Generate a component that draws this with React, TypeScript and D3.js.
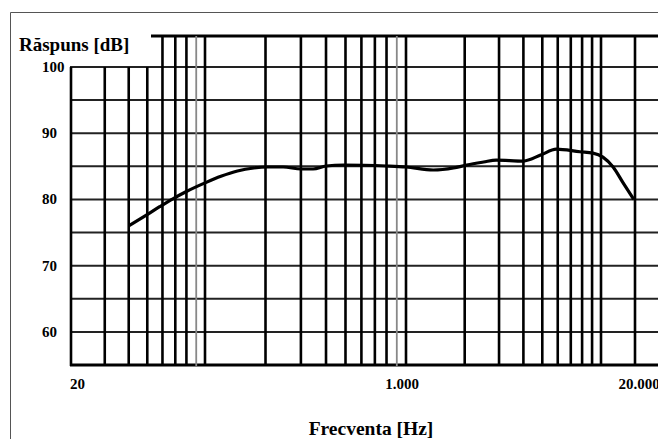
import React, { useEffect, useRef } from "react";
import * as d3 from "d3";

// frequency response
const freqs = [40, 48, 58, 68, 80, 100, 120, 145, 175, 205, 245, 300, 345, 400, 490, 800, 1000, 1380, 1750, 2050, 2500, 2900, 4000, 4900, 5900, 7800, 9100, 10400, 12800, 15700, 19500];
const response = [76, 77.4, 78.9, 80.1, 81.2, 82.5, 83.5, 84.3, 84.75, 84.9, 84.9, 84.6, 84.6, 85.05, 85.2, 85.05, 84.9, 84.45, 84.75, 85.2, 85.65, 85.95, 85.8, 86.7, 87.6, 87.2, 87.0, 86.4, 84.9, 82.5, 80];

const gridFreqs = [20, 30, 40, 50, 60, 70, 80, 90, 100, 200, 300, 400, 500, 600, 700, 800, 900, 1000, 2000, 3000, 4000, 5000, 6000, 7000, 8000, 9000, 10000, 20000];
const lightFreqs = [90, 900];
const gridDb = [55, 60, 65, 70, 75, 80, 85, 90, 95, 100];
const yTickLabels = [60, 70, 80, 90, 100];
const xTickLabels = [
  { f: 20, text: "20" },
  { f: 1000, text: "1.000" },
  { f: 20000, text: "20.000" },
];

const W = 658;
const H = 439;
const serif = "'Liberation Serif', 'Times New Roman', serif";

export default function App() {
  const ref = useRef<SVGSVGElement | null>(null);

  useEffect(() => {
    const svg = d3.select(ref.current);
    svg.selectAll("*").remove();

    const left = 71, bottom = 365, top100 = 67, topBorder = 36;

    // the paper's decades are not quite even, so map each decade piecewise
    const x = d3.scaleLog()
      .domain([20, 100, 1000, 10000, 20000])
      .range([left, 205, 406, 601, 635]);
    const y = d3.scaleLinear().domain([55, 100]).range([bottom, top100]);

    // outer frame
    svg.append("path")
      .attr("d", `M10.5,${H} V12.5 H${W}`)
      .attr("fill", "none")
      .attr("stroke", "#555")
      .attr("stroke-width", 1);

    // horizontal grid
    svg.selectAll("line.h")
      .data(gridDb)
      .enter()
      .append("line")
      .attr("class", "h")
      .attr("x1", left - 1)
      .attr("x2", W)
      .attr("y1", d => y(d))
      .attr("y2", d => y(d))
      .attr("stroke", d => (d === 55 ? "#000" : "#222"))
      .attr("stroke-width", d => (d === 55 ? 3 : 2));

    svg.append("line")
      .attr("x1", 151)
      .attr("x2", W)
      .attr("y1", topBorder)
      .attr("y2", topBorder)
      .attr("stroke", "#000")
      .attr("stroke-width", 3);

    // vertical grid
    svg.selectAll("line.v")
      .data(gridFreqs)
      .enter()
      .append("line")
      .attr("class", "v")
      .attr("x1", d => x(d))
      .attr("x2", d => x(d))
      .attr("y1", d => (d >= 60 ? topBorder : top100))
      .attr("y2", bottom + 1)
      .attr("stroke", d => (lightFreqs.includes(d) ? "#888" : "#000"))
      .attr("stroke-width", d => (lightFreqs.includes(d) ? 1.8 : 2.6));

    // response curve
    const line = d3.line<number>()
      .x((d, i) => x(freqs[i]))
      .y(d => y(d))
      .curve(d3.curveMonotoneX);

    svg.append("path")
      .attr("d", line(response) || "")
      .attr("fill", "none")
      .attr("stroke", "#000")
      .attr("stroke-width", 3.2)
      .attr("stroke-linejoin", "round");

    // labels
    svg.selectAll("text.yt")
      .data(yTickLabels)
      .enter()
      .append("text")
      .attr("class", "yt")
      .attr("x", 42)
      .attr("y", d => y(d) + 5)
      .attr("font-family", serif)
      .attr("font-weight", "bold")
      .attr("font-size", 15)
      .text(d => d);

    svg.selectAll("text.xt")
      .data(xTickLabels)
      .enter()
      .append("text")
      .attr("class", "xt")
      .attr("x", d => (d.f === 20 ? x(d.f) - 1 : d.f === 1000 ? x(d.f) - 4 : x(d.f) + 4))
      .attr("y", 389)
      .attr("text-anchor", d => (d.f === 20 ? "start" : "middle"))
      .attr("font-family", serif)
      .attr("font-weight", "bold")
      .attr("font-size", 15)
      .text(d => d.text);

    svg.append("text")
      .text("Răspuns [dB]")
      .attr("x", 19)
      .attr("y", 51)
      .attr("font-family", serif)
      .attr("font-weight", "bold")
      .attr("font-size", 19);

    svg.append("text")
      .text("Frecventa [Hz]")
      .attr("x", 371)
      .attr("y", 435)
      .attr("text-anchor", "middle")
      .attr("font-family", serif)
      .attr("font-weight", "bold")
      .attr("font-size", 19.5);
  }, []);

  return (
    <svg
      ref={ref}
      width={W}
      height={H}
      style={{ position: "absolute", left: 0, top: 0, background: "#fff" }}
    />
  );
}
